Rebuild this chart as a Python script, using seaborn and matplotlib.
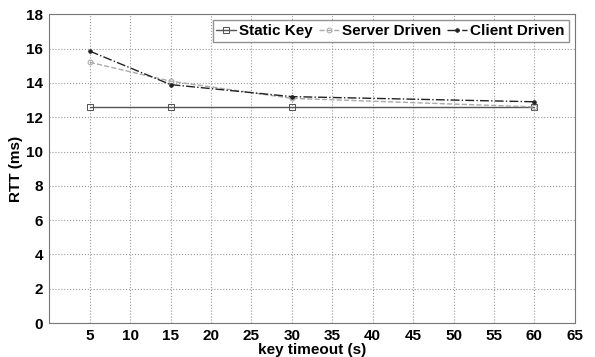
import matplotlib
matplotlib.use('Agg')
import pandas as pd
import seaborn as sns
import matplotlib.pyplot as plt

timeout = [5, 15, 30, 60]
static_key = [12.6, 12.6, 12.6, 12.6]
server_driven = [15.2, 14.1, 13.1, 12.6]
client_driven = [15.85, 13.9, 13.2, 12.9]

df = pd.DataFrame({'timeout': timeout * 3,
                   'rtt': static_key + server_driven + client_driven,
                   'scheme': ['Static Key'] * 4 + ['Server Driven'] * 4 + ['Client Driven'] * 4})

sns.set_style('whitegrid')
plt.rcParams['font.family'] = ['Liberation Sans', 'DejaVu Sans']
plt.rcParams['font.weight'] = 'bold'
plt.rcParams['text.color'] = 'black'
plt.rcParams['axes.labelcolor'] = 'black'
plt.rcParams['xtick.color'] = 'black'
plt.rcParams['ytick.color'] = 'black'

fig, ax = plt.subplots(figsize=(5.95, 3.57), dpi=100)
fig.subplots_adjust(left=0.083, right=0.966, top=0.96, bottom=0.095)

styles = {'Static Key': dict(color='#555555', ls='-', marker='s', ms=4, mfc='none', lw=1.0),
          'Server Driven': dict(color='#aaaaaa', ls='--', marker='o', ms=3.5, mfc='none', lw=1.0),
          'Client Driven': dict(color='#222222', ls='-.', marker='.', ms=5, lw=1.0)}
for name, st in styles.items():
    sub = df[df['scheme'] == name]
    sns.lineplot(data=sub, x='timeout', y='rtt', ax=ax, label=name,
                 color=st['color'], linestyle=st['ls'], marker=st['marker'],
                 markersize=st['ms'], markerfacecolor=st.get('mfc', st['color']),
                 markeredgecolor=st['color'], linewidth=st['lw'])

ax.set_xlim(0, 65)
ax.set_ylim(0, 18)
ax.set_xticks(range(5, 66, 5))
ax.set_yticks(range(0, 19, 2))
ax.grid(True, linestyle=':', color='#999999', linewidth=0.8)
for s in ax.spines.values():
    s.set_color('#777777')
    s.set_linewidth(0.8)
ax.tick_params(labelsize=11, pad=1)
for lab in ax.get_xticklabels() + ax.get_yticklabels():
    lab.set_fontweight('bold')
ax.set_xlabel('key timeout (s)', fontsize=11, fontweight='bold', labelpad=0)
ax.set_ylabel('RTT (ms)', fontsize=11, fontweight='bold', labelpad=2)

leg = ax.legend(loc='upper right', ncol=3, fontsize=11, frameon=True, fancybox=False,
                handlelength=1.3, handletextpad=0.2, columnspacing=0.4,
                borderpad=0.25, borderaxespad=0.4)
leg.get_frame().set_edgecolor('#777777')
leg.get_frame().set_linewidth(1.0)
for t in leg.get_texts():
    t.set_fontweight('bold')

plt.savefig('out.png', dpi=100)
